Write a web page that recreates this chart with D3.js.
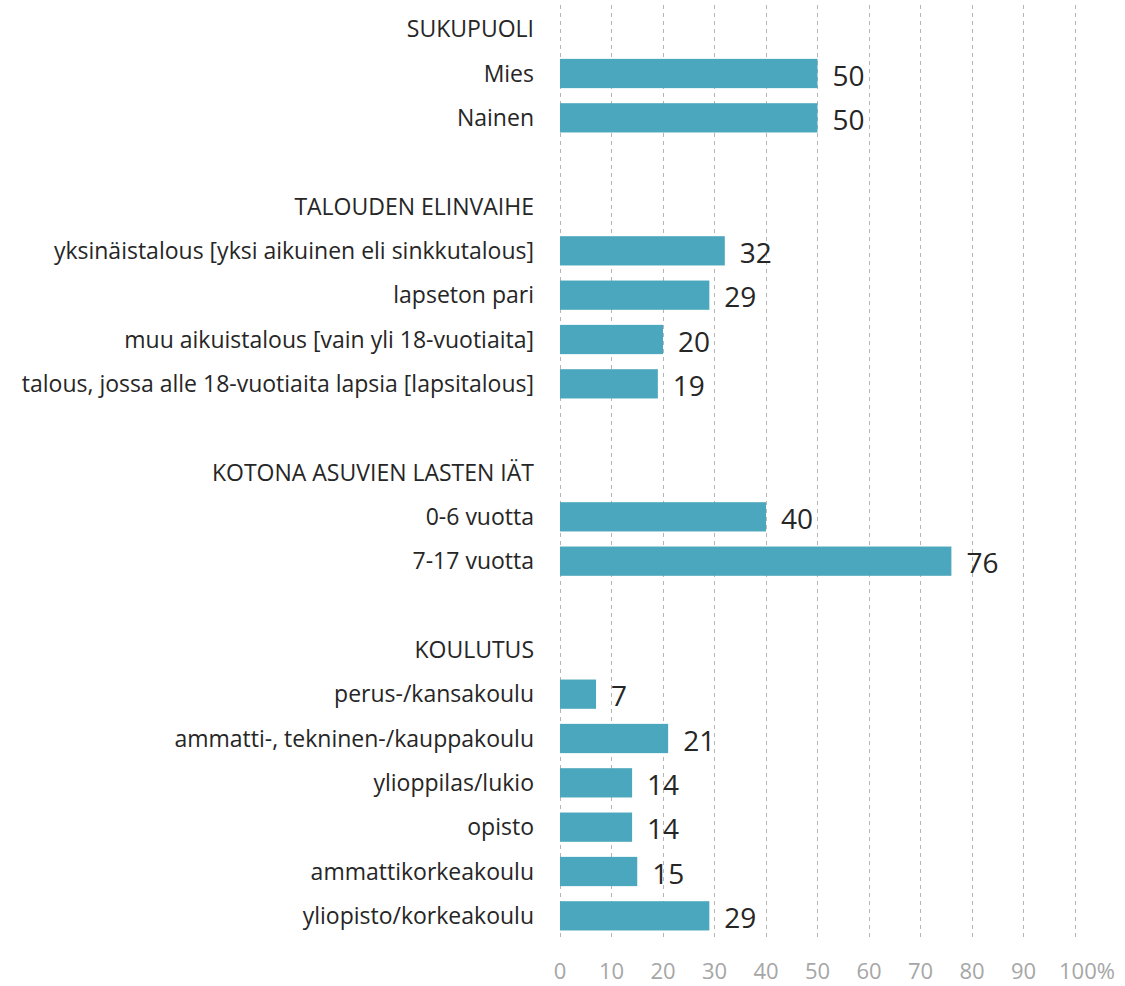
<!DOCTYPE html>
<html lang="fi">
<head>
<meta charset="utf-8">
<script src="https://d3js.org/d3.v7.min.js"></script>
<style>
  body { margin: 0; background: #fff; }
  svg text { font-family: "Open Sans", Lato, sans-serif; }
</style>
<title>Vastaajat</title>
</head>
<body>
<script>
// data
var sukupuoliLabels = ["Mies", "Nainen"];
var sukupuoliValues = [50, 50];
var elinvaiheLabels = ["yksinäistalous [yksi aikuinen eli sinkkutalous]", "lapseton pari",
  "muu aikuistalous [vain yli 18-vuotiaita]", "talous, jossa alle 18-vuotiaita lapsia [lapsitalous]"];
var elinvaiheValues = [32, 29, 20, 19];
var lapsetLabels = ["0-6 vuotta", "7-17 vuotta"];
var lapsetValues = [40, 76];
var koulutusLabels = ["perus-/kansakoulu", "ammatti-, tekninen-/kauppakoulu", "ylioppilas/lukio",
  "opisto", "ammattikorkeakoulu", "yliopisto/korkeakoulu"];
var koulutusValues = [7, 21, 14, 14, 15, 29];
var groupTitles = ["SUKUPUOLI", "TALOUDEN ELINVAIHE", "KOTONA ASUVIEN LASTEN IÄT", "KOULUTUS"];
var xTicks = [0, 10, 20, 30, 40, 50, 60, 70, 80, 90, 100];

var groups = [
  [sukupuoliLabels, sukupuoliValues],
  [elinvaiheLabels, elinvaiheValues],
  [lapsetLabels, lapsetValues],
  [koulutusLabels, koulutusValues]
];

// flatten into rows: header, items, blank spacer
var rows = [];
groups.forEach(function(g, gi) {
  if (gi > 0) rows.push({ type: "blank", label: "" });
  rows.push({ type: "header", label: groupTitles[gi] });
  g[0].forEach(function(l, i) { rows.push({ type: "bar", label: l, value: g[1][i] }); });
});

var w = 1125, h = 986;
var svg = d3.select("body").append("svg").attr("width", w).attr("height", h);

var x = d3.scaleLinear().domain([0, 100]).range([560, 1075]);
var y = d3.scaleBand().domain(d3.range(rows.length)).range([7, 938]);
var barH = y.bandwidth() * 0.66;

// grid
svg.append("g").selectAll("line")
  .data(xTicks).enter().append("line")
  .attr("x1", function(d) { return x(d); })
  .attr("x2", function(d) { return x(d); })
  .attr("y1", 5).attr("y2", 940)
  .attr("stroke", "#b4b4b4").attr("stroke-width", 1)
  .attr("stroke-dasharray", "4,4")
  .attr("shape-rendering", "crispEdges");

// x labels
svg.append("g").selectAll("text")
  .data(xTicks).enter().append("text")
  .attr("x", function(d) { return d === 100 ? x(d) + 12 : x(d); })
  .attr("y", 979)
  .attr("text-anchor", "middle")
  .attr("fill", "#a6a6a6")
  .style("font-size", "22px")
  .text(function(d) { return d === 100 ? "100%" : d; });

// bars
var bars = rows.map(function(r, i) { return { r: r, i: i }; }).filter(function(d) { return d.r.type === "bar"; });

svg.append("g").selectAll("rect")
  .data(bars).enter().append("rect")
  .attr("x", x(0))
  .attr("y", function(d) { return y(d.i) + (y.bandwidth() - barH) / 2; })
  .attr("width", function(d) { return x(d.r.value) - x(0); })
  .attr("height", barH)
  .attr("fill", "#4ba7bd");

// value labels
svg.append("g").selectAll("text")
  .data(bars).enter().append("text")
  .attr("x", function(d) { return x(d.r.value) + 15; })
  .attr("y", function(d) { return y(d.i) + y.bandwidth() / 2 + 12; })
  .attr("fill", "#262626")
  .style("font-size", "28px")
  .text(function(d) { return d.r.value; });

// category labels
svg.append("g").selectAll("text")
  .data(rows.map(function(r, i) { return { r: r, i: i }; })).enter().append("text")
  .attr("x", 534)
  .attr("y", function(d) { return y(d.i) + y.bandwidth() / 2 + 8; })
  .attr("text-anchor", "end")
  .attr("fill", "#262626")
  .style("font-size", "23px")
  .text(function(d) { return d.r.label; });
</script>
</body>
</html>
